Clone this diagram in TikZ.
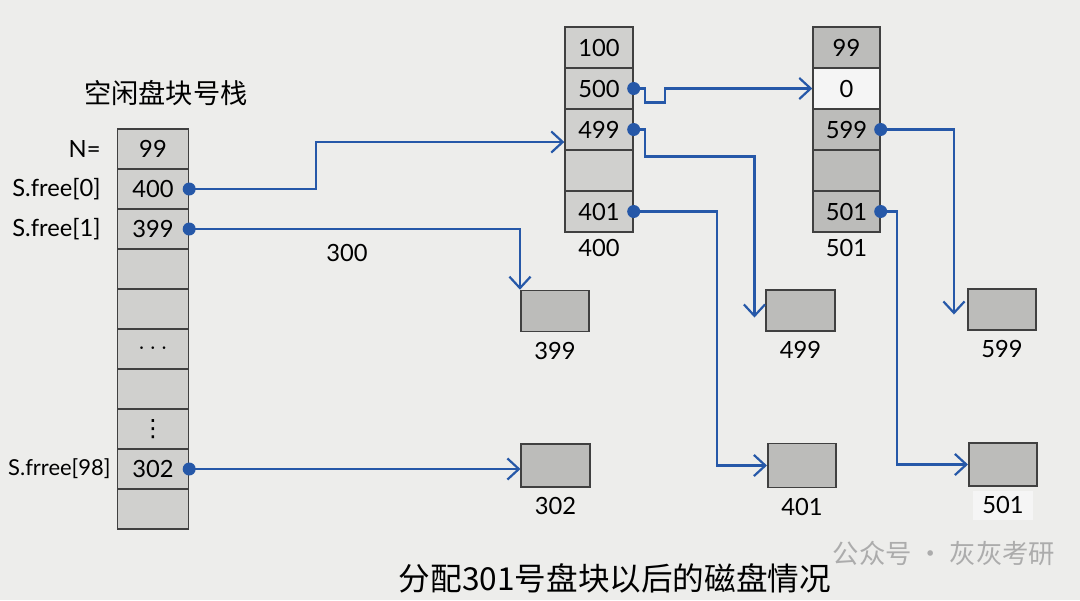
\documentclass[tikz,border=0pt]{standalone}
\usepackage{fontspec}
\setmainfont{Lato}
\newfontfamily\cjk{Noto Sans CJK SC}
\newfontfamily\symfont{DejaVu Sans}
\usepackage{xcolor}
\usetikzlibrary{arrows.meta,positioning,calc}
\definecolor{paper}{RGB}{237,237,235}
\definecolor{cellgray}{RGB}{208,208,206}
\definecolor{shadegray}{RGB}{188,188,186}
\definecolor{linkblue}{RGB}{38,88,168}
\definecolor{markgray}{RGB}{172,172,172}

\begin{document}
\begin{tikzpicture}[x=0.02cm, y=-0.02cm,
  cell/.style={draw=black!75, line width=0.8pt, fill=cellgray, minimum width=1.42cm, minimum height=0.8cm, inner sep=0pt, font=\fontsize{13.5}{16}\selectfont},
  blk/.style={draw=black!75, line width=0.9pt, fill=shadegray, minimum width=1.37cm, minimum height=0.82cm, inner sep=0pt},
  lbl/.style={font=\fontsize{13.5}{16}\selectfont},
  knob/.style={circle, fill=linkblue, minimum size=0.26cm, inner sep=0pt},
  link/.style={draw=linkblue, line width=1.25pt, -{Straight Barb[length=6.5pt,width=12pt,line width=1.25pt]}}
]
\fill[paper] (0,0) rectangle (1080,600);
\useasboundingbox (0,0) rectangle (1080,600);

% free block stack
\node[font=\cjk\fontsize{15.5}{18}\selectfont] (title) at (166,93) {空闲盘块号栈};
\foreach \i/\t in {0/99,1/400,2/399,3/,4/,5/{$\cdots$},6/,7/{{\symfont ⋮}},8/302,9/}
  \node[cell] (s\i) at (153,{149+40*\i}) {\t};
\node[lbl, left=0.2cm of s0] (n0) {N=};
\node[lbl, left=0.2cm of s1] (n1) {S.free[0]};
\node[lbl, left=0.2cm of s2] (n2) {S.free[1]};
\node[lbl, font=\fontsize{12.5}{15}\selectfont, left=0pt of s8] (n8) {S.frree[98]};

% block 400 and block 501
\foreach \i/\t in {0/100,1/500,2/499,3/,4/401}
  \node[cell, minimum width=1.36cm, minimum height=0.82cm] (m\i) at (599,{47.5+41*\i}) {\t};
\node[lbl, below=0pt of m4] (ml) {400};
\foreach \i/\t/\f in {0/99/shadegray,1/0/white!96!black,2/599/shadegray,3//shadegray,4/501/shadegray}
  \node[cell, fill=\f, minimum width=1.34cm, minimum height=0.82cm] (r\i) at (846.5,{47.5+41*\i}) {\t};
\node[lbl, below=0pt of r4] (rl) {501};

% single blocks
\node[blk] (b399) at (555,311) {};
\node[blk, minimum height=0.86cm] (b302) at (555.5,465.5) {};
\node[blk] (b499) at (800.5,310.5) {};
\node[blk] (b599) at (1002,309.5) {};
\node[blk, minimum height=0.88cm] (b401) at (802,465.5) {};
\node[blk, minimum height=0.86cm] (b501) at (1003,464.5) {};
\node[lbl, below=2pt of b399] (l399) {399};
\node[lbl, below=2pt of b302] (l302) {302};
\node[lbl, below=2pt of b499] (l499) {499};
\node[lbl, below=2pt of b599] (l599) {599};
\node[lbl, below=2pt of b401] (l401) {401};
\node[lbl, below=2pt of b501, fill=white!96!black, minimum width=1.2cm] (l501) {501};

% links
\draw[link] (s1.east) -- ++(127,0) |- ([yshift=-0.25cm]m2.west);
\draw[link] (s2.east) -| (b399.north west);
\node[lbl] (t300) at (347,253) {300};
\draw[link] (s8.east) -- (s8.east -| b302.west);
\draw[link] (m1.east) -- ++(11,0) -- ++(0,14) -- ++(20,0) |- (r1.west);
\draw[link] (m2.east) -- ++(11,0) -- ++(0,27) -| ($(b499.west)+(-11,7)$);
\draw[link] (m4.east) -- ++(83,0) |- (b401.west);
\draw[link] (r2.east) -| ($(b599.west)+(-13,5)$);
\draw[link] (r4.east) -- ++(16,0) |- (b501.west);
\foreach \c in {s1,s2,s8,m1,m2,m4,r2,r4}
  \node[knob] (k\c) at (\c.east) {};

\node[font=\cjk\fontsize{18}{21}\selectfont] (cap) at (615,578) {分配301号盘块以后的磁盘情况};
\node[font=\cjk\fontsize{15}{18}\selectfont, text=markgray] (mark) at (944,553) {公众号 · 灰灰考研};
\end{tikzpicture}
\end{document}
